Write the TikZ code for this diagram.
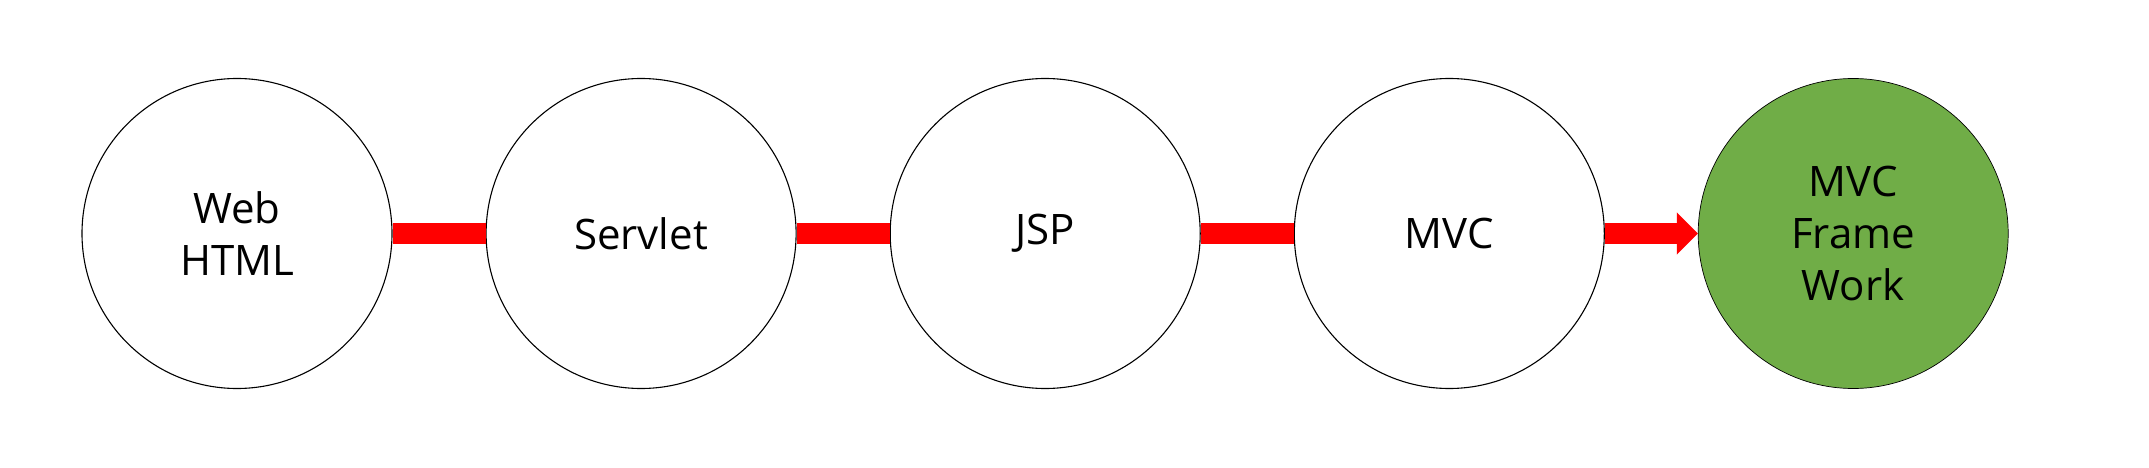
\documentclass[tikz,border=0pt]{standalone}
\usepackage{fontspec}
\setmainfont{Open Sans}
\usetikzlibrary{positioning,arrows.meta}
\definecolor{stepred}{RGB}{255,0,0}
\definecolor{stepgreen}{RGB}{112,173,71}
\tikzset{
  font={\fontsize{21pt}{26pt}\selectfont}}

\begin{document}
\begin{tikzpicture}[x=1pt,y=1pt,
  stage/.style={circle,draw=black,line width=0.55pt,fill=white,
    minimum size=155pt,inner sep=0pt,align=center},
  goal/.style={stage,fill=stepgreen,line width=0.35pt},
  link/.style={draw=stepred,line width=10.5pt},
  node distance=46.5pt]
\useasboundingbox (0,0) rectangle (1074.5,233.5);
\node [stage] (web) at (118.5,116.75) {Web\\HTML};
\node [stage,right=of web] (servlet) {Servlet};
\node [stage,right=of servlet] (jsp) {JSP};
\node [stage,right=of jsp] (mvc) {MVC};
\node [goal,right=of mvc] (frame) {MVC\\Frame\\Work};
\draw [link] (web) -- (servlet);
\draw [link] (servlet) -- (jsp);
\draw [link] (jsp) -- (mvc);
\draw [link,-{Triangle[length=10.5pt,width=20.5pt]}] (mvc) -- (frame);
\end{tikzpicture}
\end{document}
